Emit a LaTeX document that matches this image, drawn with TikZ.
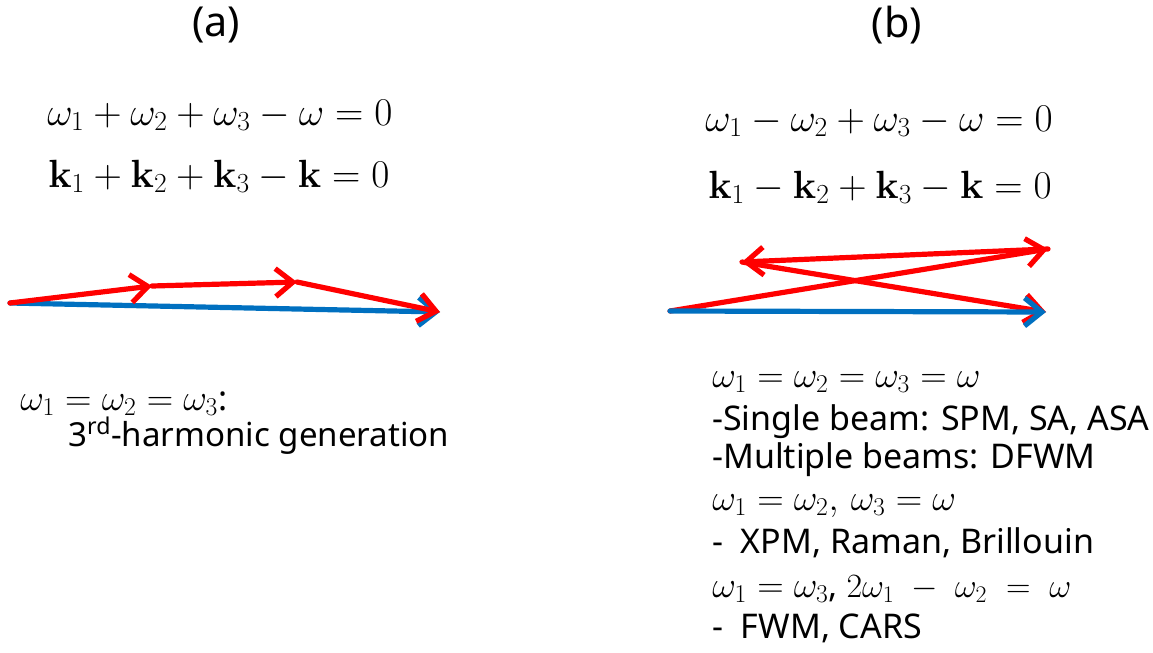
\RequirePackage{fix-cm}
\documentclass[tikz,border=0pt]{standalone}
\usepackage[no-math]{fontspec}
\setmainfont{Noto Sans}
\usetikzlibrary{arrows.meta}
\definecolor{vred}{RGB}{255,0,0}
\definecolor{vblue}{RGB}{0,112,192}
\tikzset{
  vec/.style={line width=3.9pt, line cap=round, -{Straight Barb[length=13pt,width=21pt]}},
  redvec/.style={vec, draw=vred},
  bluevec/.style={vec, draw=vblue},
  lbl/.style={inner sep=0pt, anchor=base west, font=\fontsize{25.5}{30}\selectfont},
  mlbl/.style={inner sep=0pt, anchor=base west, font=\fontsize{27.5}{32}\selectfont},
  eq/.style={inner sep=0pt, anchor=base west, font=\fontsize{29.5}{34}\selectfont},
  title/.style={inner sep=0pt, font=\fontsize{31}{36}\selectfont}
}
\begin{document}
\begin{tikzpicture}[x=0.75pt,y=-0.75pt]
\useasboundingbox (0,0) rectangle (1153,653);
% panel (a)
\node[title] (ta) at (216,25) {(a)};
\node[eq] (ea1) at (47,125) {$\omega_1+\omega_2+\omega_3-\omega=0$};
\node[eq] (ea2) at (48,187) {$\mathbf{k}_1+\mathbf{k}_2+\mathbf{k}_3-\mathbf{k}=0$};
\coordinate (a0) at (10,303);
\coordinate (a1) at (152,286);
\coordinate (a2) at (297,282);
\coordinate (a3) at (440,312);
\draw[bluevec] (a0) -- (a3);
\draw[redvec] (a0) -- (a1);
\draw[redvec] (a1) -- (a2);
\draw[redvec] (a2) -- (a3);
\node[mlbl] (la1) at (20,410) {$\omega_1=\omega_2=\omega_3$\fontsize{25.5}{30}\selectfont:};
\node[lbl, font=\fontsize{24.8}{30}\selectfont] (la2) at (68,446) {3\textsuperscript{rd}-harmonic generation};
% panel (b)
\node[title] (tb) at (897,25) {(b)};
\node[eq] (eb1) at (705,131) {$\omega_1-\omega_2+\omega_3-\omega=0$};
\node[eq] (eb2) at (708,198) {$\mathbf{k}_1-\mathbf{k}_2+\mathbf{k}_3-\mathbf{k}=0$};
\coordinate (b0) at (670,311);
\coordinate (b1) at (1048,249);
\coordinate (b2) at (742,262);
\coordinate (b3) at (1046,312);
\draw[redvec] (b0) -- (b1);
\draw[redvec] (b1) -- (b2);
\draw[redvec] (b2) -- (b3);
\draw[bluevec] (b0) -- (b3);
\node[mlbl] (lb1) at (712,387) {$\omega_1=\omega_2=\omega_3=\omega$};
\node[lbl] (lb2) at (712,430) {-Single beam: SPM, SA, ASA};
\node[lbl] (lb3) at (712,468) {-Multiple beams: DFWM};
\node[mlbl] (lb4) at (712,510) {$\omega_1=\omega_2,\,\omega_3=\omega$};
\node[lbl] (lb5) at (712,553) {-\ \ XPM, Raman, Brillouin};
\node[mlbl] (lb6) at (712,597) {$\omega_1=\omega_3$\fontsize{25.5}{30}\selectfont, $2\omega_1\;-\;\omega_2\;=\;\omega$};
\node[lbl] (lb7) at (712,638) {-\ \ FWM, CARS};
\end{tikzpicture}
\end{document}
